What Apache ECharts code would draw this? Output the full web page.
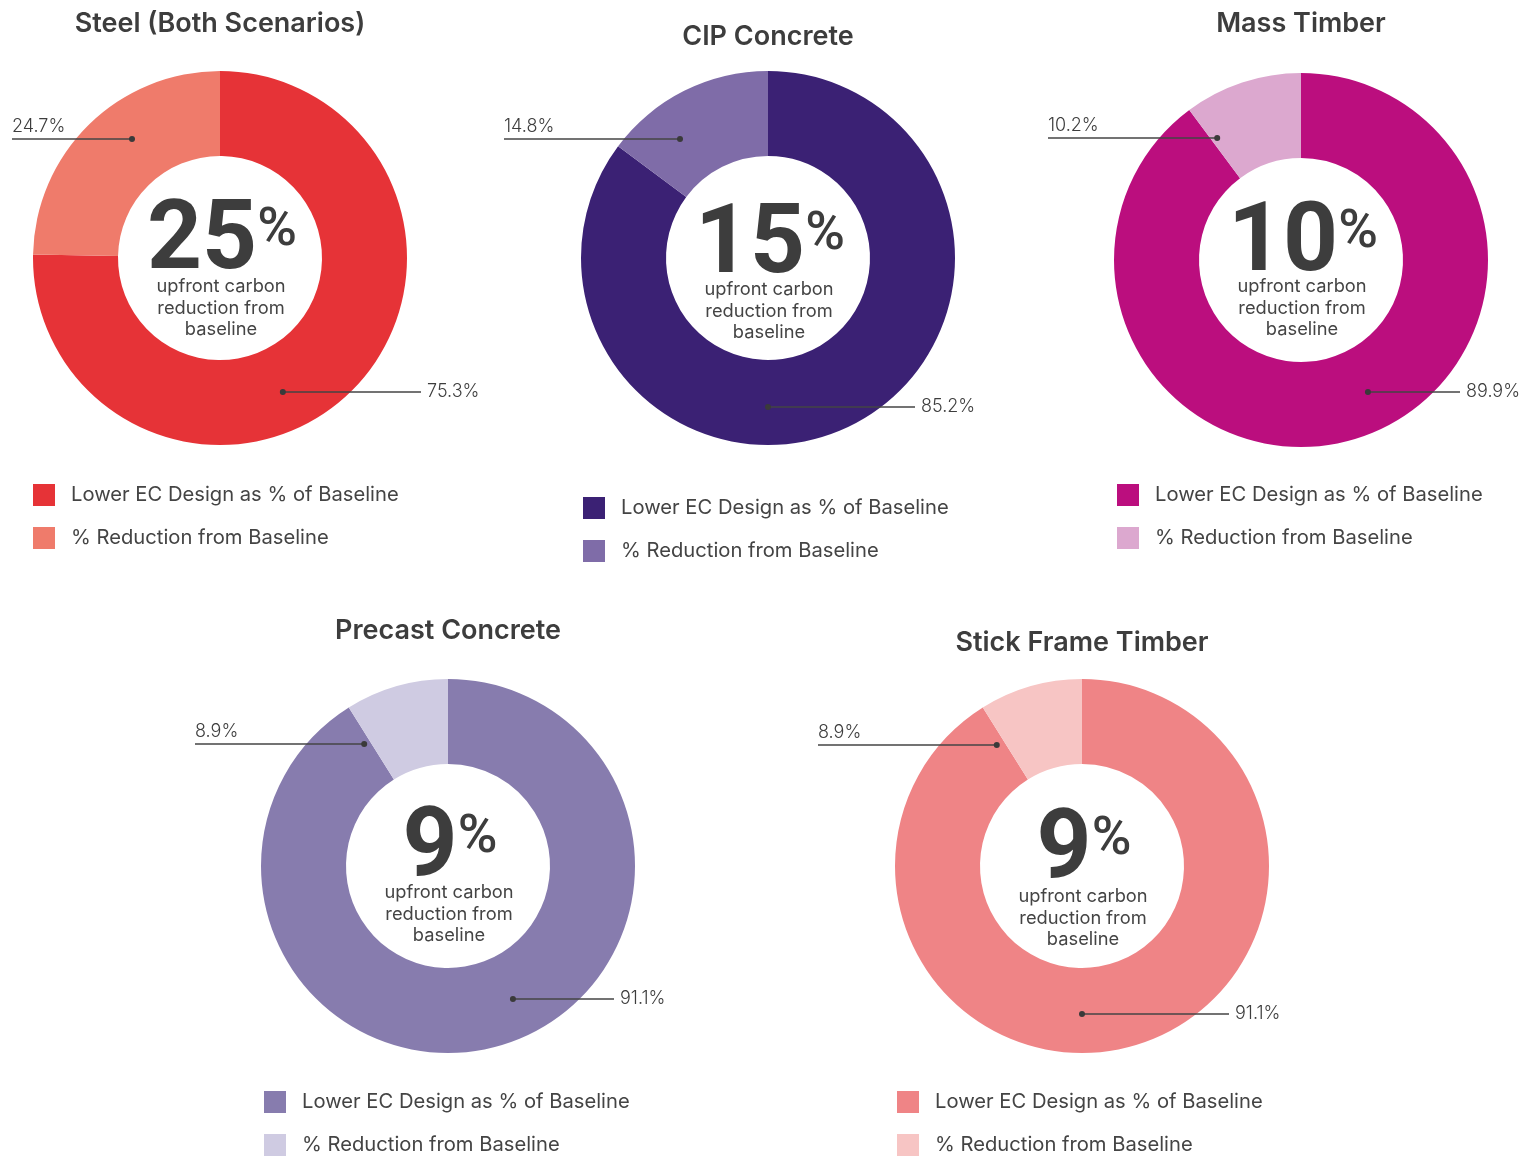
<!DOCTYPE html>
<html>
<head>
<meta charset="utf-8">
<script src="https://cdn.jsdelivr.net/npm/echarts@6/dist/echarts.min.js"></script>
<style>
html,body{margin:0;padding:0;background:#fff;}
#main{width:1523px;height:1157px;}
</style>
</head>
<body>
<div id="main"></div>
<script>
// ---- data ----
const panelTitles = ['Steel (Both Scenarios)', 'CIP Concrete', 'Mass Timber', 'Precast Concrete', 'Stick Frame Timber'];
const sliceNames = ['Lower EC Design as % of Baseline', '% Reduction from Baseline'];
const lowerEC = [75.3, 85.2, 89.9, 91.1, 91.1];
const reduction = [24.7, 14.8, 10.2, 8.9, 8.9];
const headline = ['25', '15', '10', '9', '9'];
const centerNote = 'upfront carbon\nreduction from\nbaseline';

// ---- style / layout ----
const lowerColors = ['#E63337', '#3B2174', '#BB0E7E', '#877CAE', '#EF8486'];
const reductionColors = ['#EF7B6B', '#7F6CA8', '#DCA8CF', '#CFCBE2', '#F7C5C4'];
const FONT = 'Inter, "Noto Sans", sans-serif';
const NUMFONT = 'Roboto, Inter, sans-serif';
const TXT = '#3d3d3d';
const R_IN = 102, R_OUT = 187, R_DOT = 148;
const layout = [
  {cx: 220,  cy: 258, titleY: 10,  legX: 33,   legY: 484,  leftX: 12,   rightX: 421,  leftY: 139, rightY: 392, numDy: -14, noteDy: 18},
  {cx: 768,  cy: 258, titleY: 23,  legX: 583,  legY: 497,  leftX: 504,  rightX: 915,  leftY: 139, rightY: 407, numDy: -10, noteDy: 21},
  {cx: 1301, cy: 260, titleY: 10,  legX: 1117, legY: 484,  leftX: 1048, rightX: 1460, leftY: 138, rightY: 392, numDy: -14, noteDy: 16},
  {cx: 448,  cy: 866, titleY: 617, legX: 264,  legY: 1091, leftX: 195,  rightX: 614,  leftY: 744, rightY: 999, numDy: -15, noteDy: 16},
  {cx: 1082, cy: 866, titleY: 629, legX: 897,  legY: 1091, leftX: 818,  rightX: 1229, leftY: 745, rightY: 1014, numDy: -13, noteDy: 20}
];

function dotPos(L, idx) {
  const y = idx === 0 ? L.rightY : L.leftY;
  const dy = y - L.cy;
  const dx = Math.sqrt(Math.max(0, R_DOT * R_DOT - dy * dy));
  return [L.cx + (idx === 0 ? dx : -dx), y];
}

const titles = [], legends = [], series = [];
panelTitles.forEach((t, i) => {
  const L = layout[i];
  titles.push({
    text: t, left: L.cx, top: L.titleY, textAlign: 'center', padding: 0,
    textStyle: {fontFamily: FONT, fontSize: 27, fontWeight: 600, color: TXT}
  });
  titles.push({
    text: '{n|' + headline[i] + '}{p|%}', left: L.cx + 2, top: L.cy + L.numDy - 40, textAlign: 'center', padding: 0,
    textStyle: {
      rich: {
        n: {fontFamily: NUMFONT, fontSize: 96, fontWeight: 700, color: TXT, lineHeight: 80},
        p: {fontFamily: NUMFONT, fontSize: 54, fontWeight: 500, color: TXT, lineHeight: 46, verticalAlign: 'top'}
      }
    }
  });
  titles.push({
    text: centerNote, left: L.cx + 1, top: L.cy + L.noteDy, textAlign: 'center', padding: 0,
    textStyle: {fontFamily: FONT, fontSize: 18.3, fontWeight: 400, color: '#444', lineHeight: 21.5, align: 'center'}
  });
  legends.push({
    left: L.legX, top: L.legY, orient: 'vertical', padding: 0, itemGap: 21,
    itemWidth: 22, itemHeight: 22, icon: 'rect', selectedMode: false,
    textStyle: {fontFamily: FONT, fontSize: 20.2, color: '#444', padding: [0, 0, 0, 11]},
    data: [
      {name: sliceNames[0], itemStyle: {color: lowerColors[i]}},
      {name: sliceNames[1], itemStyle: {color: reductionColors[i]}}
    ]
  });
  const pieData = [
    {name: sliceNames[0], value: lowerEC[i], itemStyle: {color: lowerColors[i]}},
    {name: sliceNames[1], value: reduction[i], itemStyle: {color: reductionColors[i]}}
  ];
  const ghostData = pieData.map(d => ({name: d.name, value: d.value, itemStyle: {color: 'rgba(0,0,0,0)'}}));
  // the donut itself
  series.push({
    type: 'pie', name: t, center: [L.cx, L.cy], radius: [R_IN, R_OUT], z: 2,
    startAngle: 90, clockwise: true, silent: true, emphasis: {disabled: true},
    data: pieData, label: {show: false}, labelLine: {show: false}
  });
  // overlay carrying the value labels + leader lines (drawn on top of the donut)
  series.push({
    type: 'pie', name: t + ' labels', center: [L.cx, L.cy], radius: [R_IN, R_OUT], z: 3,
    startAngle: 90, clockwise: true, avoidLabelOverlap: false, silent: true,
    emphasis: {disabled: true},
    data: ghostData,
    label: {show: true, position: 'outside', formatter: '{c}%',
      fontFamily: FONT, fontSize: 18, fontWeight: 300, color: TXT},
    labelLine: {show: true, length: 10, length2: 10, smooth: false,
      lineStyle: {color: '#444', width: 1.5}},
    labelLayout: function (p) {
      const idx = p.dataIndex;
      const d = dotPos(L, idx);
      if (idx === 0) {
        return {x: L.rightX + 6, y: d[1], align: 'left', verticalAlign: 'middle',
          labelLinePoints: [d, [(d[0] + L.rightX) / 2, d[1]], [L.rightX, d[1]]]};
      }
      return {x: L.leftX, y: d[1] - 3, align: 'left', verticalAlign: 'bottom',
        labelLinePoints: [d, [(d[0] + L.leftX) / 2, d[1]], [L.leftX, d[1]]]};
    }
  });
  // overlay that draws the leader-line anchor dots
  series.push({
    type: 'pie', name: t + ' anchors', center: [L.cx, L.cy], radius: [R_IN, R_OUT], z: 4,
    startAngle: 90, clockwise: true, silent: true, emphasis: {disabled: true},
    data: ghostData,
    label: {show: true, position: 'inside', formatter: '{d|}',
      rich: {d: {width: 6, height: 6, borderRadius: 3, backgroundColor: '#3a3a3a'}}},
    labelLine: {show: false},
    labelLayout: function (p) {
      const d = dotPos(L, p.dataIndex);
      return {x: d[0], y: d[1], align: 'center', verticalAlign: 'middle'};
    }
  });
});

const chart = echarts.init(document.getElementById('main'), null, {renderer: 'canvas'});
chart.setOption({
  backgroundColor: '#fff',
  animation: false,
  title: titles,
  legend: legends,
  series: series
});
</script>
</body>
</html>
